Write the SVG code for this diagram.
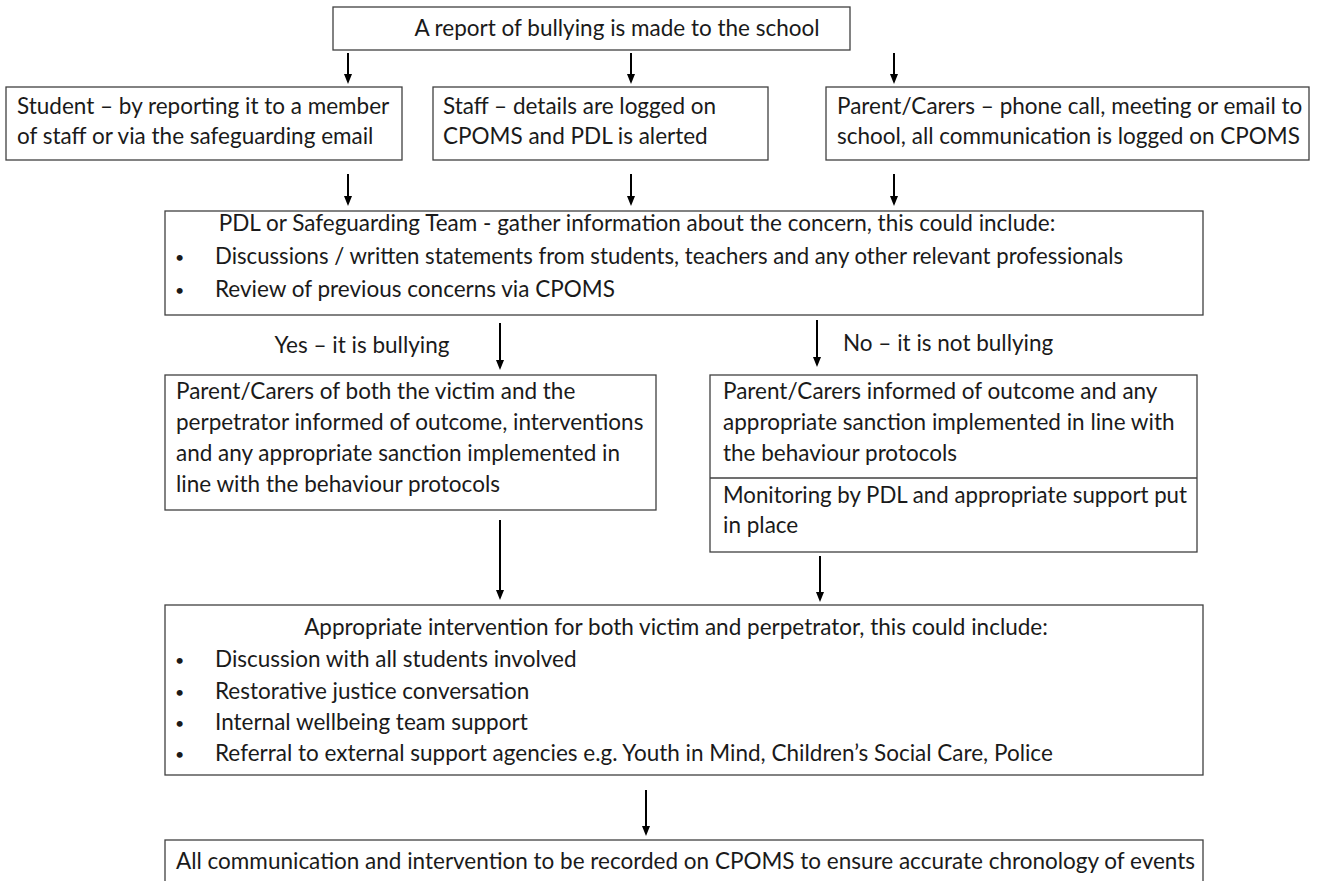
<svg xmlns="http://www.w3.org/2000/svg" width="1327" height="881" viewBox="0 0 1327 881">
<style>
.box{fill:#fff;stroke:#404040;stroke-width:1.3}
.t{font-family:Lato,"Liberation Sans",sans-serif;font-size:22.5px;fill:#1a1a1a}
.c{text-anchor:middle}
.b{font-size:16px}
.ar{stroke:#000;stroke-width:2;fill:none;marker-end:url(#ah)}
</style>
<defs>
<marker id="ah" markerWidth="10" markerHeight="10" refX="5" refY="5" orient="auto" markerUnits="userSpaceOnUse">
<path d="M0,1 L10,5 L0,9 Z" fill="#000"/>
</marker>
</defs>
<rect width="1327" height="881" fill="#fff"/>
<g id="connectors">
<line class="ar" x1="348" y1="53" x2="348" y2="79"/>
<line class="ar" x1="631" y1="53" x2="631" y2="79"/>
<line class="ar" x1="894" y1="53" x2="894" y2="79"/>
<line class="ar" x1="348" y1="174" x2="348" y2="201"/>
<line class="ar" x1="631" y1="174" x2="631" y2="201"/>
<line class="ar" x1="894" y1="174" x2="894" y2="201"/>
<line class="ar" x1="500" y1="323" x2="500" y2="365"/>
<line class="ar" x1="817" y1="320" x2="817" y2="362"/>
<line class="ar" x1="500" y1="520" x2="500" y2="595"/>
<line class="ar" x1="820" y1="556" x2="820" y2="597"/>
<line class="ar" x1="646" y1="790" x2="646" y2="831"/>
</g>
<g id="n-report">
<rect class="box" x="333" y="7" width="517" height="43"/>
<text class="t c" x="617" y="36">A report of bullying is made to the school</text>
</g>
<g id="n-student">
<rect class="box" x="6" y="87" width="396" height="73"/>
<text class="t" x="17" y="114">Student – by reporting it to a member</text>
<text class="t" x="17" y="144">of staff or via the safeguarding email</text>
</g>
<g id="n-staff">
<rect class="box" x="433" y="87" width="335" height="73"/>
<text class="t" x="443" y="114">Staff – details are logged on</text>
<text class="t" x="443" y="144">CPOMS and PDL is alerted</text>
</g>
<g id="n-parent">
<rect class="box" x="826" y="87" width="483" height="73"/>
<text class="t" x="837" y="114">Parent/Carers – phone call, meeting or email to</text>
<text class="t" x="837" y="144">school, all communication is logged on CPOMS</text>
</g>
<g id="n-gather">
<rect class="box" x="165" y="211" width="1038" height="104"/>
<text class="t c" x="637" y="231">PDL or Safeguarding Team - gather information about the concern, this could include:</text>
<text class="t b" x="175" y="263">•</text>
<text class="t" x="215" y="264" textLength="908" lengthAdjust="spacingAndGlyphs">Discussions / written statements from students, teachers and any other relevant professionals</text>
<text class="t b" x="175" y="296">•</text>
<text class="t" x="215" y="297">Review of previous concerns via CPOMS</text>
</g>
<g id="l-yes">
<text class="t c" x="362" y="353">Yes – it is bullying</text>
</g>
<g id="l-no">
<text class="t" x="843" y="351">No – it is not bullying</text>
</g>
<g id="n-yes">
<rect class="box" x="165" y="375" width="491" height="135"/>
<text class="t" x="176" y="399">Parent/Carers of both the victim and the</text>
<text class="t" x="176" y="430">perpetrator informed of outcome, interventions</text>
<text class="t" x="176" y="461">and any appropriate sanction implemented in</text>
<text class="t" x="176" y="492">line with the behaviour protocols</text>
</g>
<g id="n-no">
<rect class="box" x="710" y="375" width="487" height="177"/>
<line x1="710" y1="478" x2="1197" y2="478" stroke="#404040" stroke-width="1.3"/>
<text class="t" x="723" y="399">Parent/Carers informed of outcome and any</text>
<text class="t" x="723" y="430">appropriate sanction implemented in line with</text>
<text class="t" x="723" y="461">the behaviour protocols</text>
<text class="t" x="723" y="503" textLength="464" lengthAdjust="spacingAndGlyphs">Monitoring by PDL and appropriate support put</text>
<text class="t" x="723" y="533">in place</text>
</g>
<g id="n-intervention">
<rect class="box" x="165" y="605" width="1038" height="170"/>
<text class="t c" x="676" y="635">Appropriate intervention for both victim and perpetrator, this could include:</text>
<text class="t b" x="175" y="666">•</text>
<text class="t" x="215" y="667">Discussion with all students involved</text>
<text class="t b" x="175" y="698">•</text>
<text class="t" x="215" y="699">Restorative justice conversation</text>
<text class="t b" x="175" y="729">•</text>
<text class="t" x="215" y="730">Internal wellbeing team support</text>
<text class="t b" x="175" y="760">•</text>
<text class="t" x="215" y="761">Referral to external support agencies e.g. Youth in Mind, Children’s Social Care, Police</text>
</g>
<g id="n-record">
<rect class="box" x="165" y="840" width="1038" height="60"/>
<text class="t" x="176" y="869">All communication and intervention to be recorded on CPOMS to ensure accurate chronology of events</text>
</g>
</svg>
